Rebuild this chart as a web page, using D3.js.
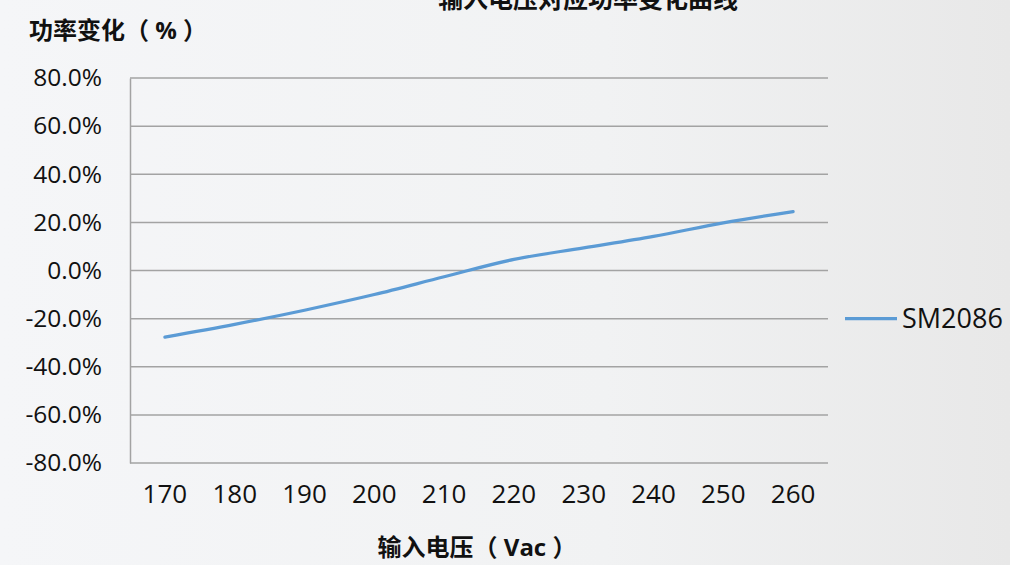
<!DOCTYPE html>
<html>
<head>
<meta charset="utf-8">
<script src="https://cdn.jsdelivr.net/npm/d3@7"></script>
<style>
  html, body { margin: 0; padding: 0; }
  body { width: 1010px; height: 565px; overflow: hidden; }
  text { font-family: "Open Sans", "Noto Sans CJK SC", sans-serif; }
</style>
</head>
<body>
<div id="chart"></div>
<script>
// Setting up sizes
const width = 1010;
const height = 565;

const margin = {
  top: 78,
  right: 182,
  bottom: 102,
  left: 130
};

// Data
const voltages = ["170", "180", "190", "200", "210", "220", "230", "240", "250", "260"];
const powerChange = [-27.7, -22.4, -16.5, -10.0, -2.6, 4.6, 9.4, 14.2, 19.8, 24.5];
const yTicks = [80, 60, 40, 20, 0, -20, -40, -60, -80];
const seriesName = "SM2086";

const svg = d3.select("#chart")
  .append("svg")
  .attr("width", width)
  .attr("height", height);

// Background gradient
const defs = svg.append("defs");
const grad = defs.append("linearGradient")
  .attr("id", "bg")
  .attr("x1", "0").attr("y1", "0")
  .attr("x2", "1").attr("y2", "0");
grad.append("stop").attr("offset", "0%").attr("stop-color", "#f5f6f8");
grad.append("stop").attr("offset", "60%").attr("stop-color", "#f1f2f3");
grad.append("stop").attr("offset", "100%").attr("stop-color", "#e8e8e8");

svg.append("rect")
  .attr("width", width)
  .attr("height", height)
  .attr("fill", "url(#bg)");

// Scales
const x = d3.scaleBand()
  .domain(voltages)
  .range([margin.left, width - margin.right]);

const y = d3.scaleLinear()
  .domain([-80, 80])
  .range([height - margin.bottom, margin.top]);

// Gridlines
svg.append("g")
  .selectAll("line")
  .data(yTicks)
  .enter()
  .append("line")
  .attr("x1", margin.left)
  .attr("x2", width - margin.right)
  .attr("y1", d => y(d))
  .attr("y2", d => y(d))
  .attr("stroke", "#a3a3a3")
  .attr("stroke-width", 1.5);

// Y axis
const yAxis = svg.append("g")
  .attr("transform", `translate(${margin.left},0)`)
  .call(d3.axisLeft(y).tickValues(yTicks).tickSize(0).tickPadding(28)
    .tickFormat(d => d.toFixed(1) + "%"));
yAxis.select(".domain").attr("stroke", "#a3a3a3").attr("stroke-width", 1.5);
yAxis.selectAll("text")
  .attr("font-size", 24.5)
  .attr("fill", "#111")
  .style("font-family", "'Open Sans', sans-serif");

// X axis
const xAxis = svg.append("g")
  .attr("transform", `translate(0,${height - margin.bottom})`)
  .call(d3.axisBottom(x).tickSize(0).tickPadding(22));
xAxis.select(".domain").remove();
xAxis.selectAll("text")
  .attr("font-size", 26)
  .attr("fill", "#111")
  .style("font-family", "'Open Sans', sans-serif");

// Line
const line = d3.line()
  .x((d, i) => x(voltages[i]) + x.bandwidth() / 2)
  .y(d => y(d))
  .curve(d3.curveCatmullRom.alpha(0.5));

svg.append("path")
  .datum(powerChange)
  .attr("fill", "none")
  .attr("stroke", "#5b9bd5")
  .attr("stroke-width", 3.2)
  .attr("stroke-linecap", "round")
  .attr("d", line);

// Legend
const legend = svg.append("g")
  .attr("transform", `translate(845,${y(-20)})`);
legend.append("line")
  .attr("x1", 0).attr("x2", 52)
  .attr("stroke", "#5b9bd5")
  .attr("stroke-width", 3.2);
legend.append("text")
  .attr("x", 57)
  .attr("dy", "0.36em")
  .attr("font-size", 27)
  .attr("fill", "#111")
  .text(seriesName);

// Titles (chart title is cut off at the top, as in the source)
svg.append("text")
  .attr("x", 588)
  .attr("y", 8)
  .attr("text-anchor", "middle")
  .attr("font-size", 25)
  .attr("font-weight", "bold")
  .attr("fill", "#111")
  .text("输入电压对应功率变化曲线");

svg.append("text")
  .attr("x", 29)
  .attr("y", 39)
  .attr("font-size", 24)
  .attr("font-weight", "bold")
  .attr("fill", "#111")
  .text("功率变化（ % ）");

svg.append("text")
  .attr("x", 477)
  .attr("y", 556)
  .attr("text-anchor", "middle")
  .attr("font-size", 24)
  .attr("font-weight", "bold")
  .attr("fill", "#111")
  .text("输入电压（ Vac ）");
</script>
</body>
</html>
